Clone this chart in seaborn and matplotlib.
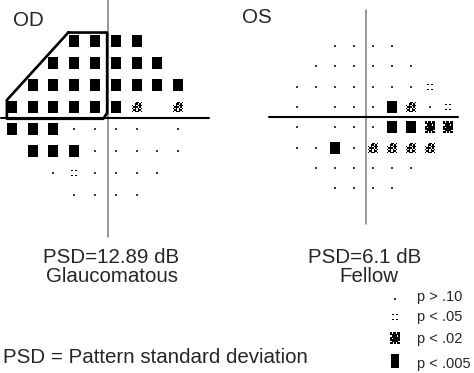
import numpy as np
import pandas as pd
import matplotlib
matplotlib.use('Agg')
import matplotlib.pyplot as plt
from matplotlib.path import Path
import seaborn as sns

sns.set_style('white')
plt.rcParams['font.family'] = ['Liberation Sans', 'DejaVu Sans']

W, H = 474, 373

# symbol codes: '.' p>.10, ':' p<.05, 'x' p<.01, '#' p<.02, 'B' p<.005, ' ' not shown
row_y = [21, 15, 9, 3, -3, -9, -15, -21]

od_cols = [-27, -21, -15, -9, -3, 3, 9, 15, 21]
od_rows = [
    "   BBBB  ",
    "  BBBBBB ",
    " BBBBBBBB",
    "BBBBBBx x",
    "BBB.... .",
    " BBB.....",
    "  .:.... ",
    "   ....  ",
]

os_cols = [-21, -15, -9, -3, 3, 9, 15, 21, 27]
os_rows = [
    "  ....   ",
    " ......  ",
    ".......: ",
    ". ...Bx.:",
    ". ...BB##",
    "..B.xxxx ",
    " ......  ",
    "  ....   ",
]

# outline of the glaucomatous defect drawn on OD
od_outline_x = [-10.7, 0.5, 0.5, -0.6, -28.4, -28.4, -10.7]
od_outline_y = [23.3, 23.3, 1.4, -0.2, -0.2, 4.9, 23.3]

legend_codes = ['.', ':', '#', 'B']
legend_labels = ['p > .10', 'p < .05', 'p < .02', 'p < .005']


def to_frame(rows, cols):
    recs = []
    for yv, r in zip(row_y, rows):
        for xv, c in zip(cols, r):
            if c != ' ':
                recs.append({'x': xv, 'y': yv, 'code': c})
    return pd.DataFrame(recs)


def cells_path(pattern):
    n = len(pattern)
    m = len(pattern[0])
    c = 1.0 / max(n, m)
    verts, codes = [], []
    for i, row in enumerate(pattern):
        for j, ch in enumerate(row):
            if ch == '1':
                x0 = (j - m / 2) * c
                y0 = (n / 2 - i - 1) * c
                verts += [(x0, y0), (x0 + c, y0), (x0 + c, y0 + c), (x0, y0 + c), (x0, y0)]
                codes += [Path.MOVETO, Path.LINETO, Path.LINETO, Path.LINETO, Path.CLOSEPOLY]
    return Path(verts, codes)


def rect_path(w):
    return Path([(-w / 2, -0.5), (w / 2, -0.5), (w / 2, 0.5), (-w / 2, 0.5), (-w / 2, -0.5)],
                [Path.MOVETO, Path.LINETO, Path.LINETO, Path.LINETO, Path.CLOSEPOLY])


four_dots = Path(
    [p for cx, cy in [(-0.3, 0.4), (0.3, 0.4), (-0.3, -0.4), (0.3, -0.4)]
     for p in [(cx - 0.1, cy - 0.1), (cx + 0.1, cy - 0.1), (cx + 0.1, cy + 0.1), (cx - 0.1, cy + 0.1), (cx - 0.1, cy - 0.1)]],
    [Path.MOVETO, Path.LINETO, Path.LINETO, Path.LINETO, Path.CLOSEPOLY] * 4)

sparse = cells_path([
    "0001101",
    "0011010",
    "1010111",
    "0111010",
    "1010101",
    "0110110",
    "1011101",
])
dense = cells_path([
    "1011011",
    "1111111",
    "0111101",
    "1111111",
    "1011111",
    "1111111",
    "0111110",
    "1101011",
])


def marker_for(code, sq_w):
    return {'.': ('s', 2.2), ':': (four_dots, 25), 'x': (sparse, 55),
            '#': (dense, 64), 'B': (rect_path(sq_w), 86)}[code]


def draw_field(ax, df, sq_w, vline_top):
    for code, grp in df.groupby('code'):
        mk, sz = marker_for(code, sq_w)
        col = '#3a3a3a' if code == '.' else 'black'
        sns.scatterplot(data=grp, x='x', y='y', marker=mk, s=sz, color=col,
                        linewidth=0, ax=ax, legend=False)
    ax.plot([0.7, 0.7], [-vline_top, vline_top], color='#7a7a7a', lw=1.1, clip_on=False, zorder=1)
    ax.plot([-30, 30], [0, 0], color='black', lw=1.5, clip_on=False, zorder=1)
    ax.set_xlim(-30, 30)
    ax.set_ylim(-32, 32)
    ax.axis('off')


fig = plt.figure(figsize=(W / 100, H / 100), dpi=100)

ax_od = fig.add_axes([1.3 / W, (H - 235.5) / H, 208.2 / W, 234.9 / H])
draw_field(ax_od, to_frame(od_rows, od_cols), 0.84, 32.5)
ax_od.plot(od_outline_x, od_outline_y, color='black', lw=1.9, clip_on=False, zorder=3)

ax_os = fig.add_axes([268.9 / W, (H - 225.7) / H, 189 / W, 217 / H])
draw_field(ax_os, to_frame(os_rows, os_cols), 0.72, 31.5)

# overlay in pixel coordinates for text and legend
ov = fig.add_axes([0, 0, 1, 1])
ov.set_xlim(0, W)
ov.set_ylim(H, 0)
ov.axis('off')
ov.patch.set_alpha(0)

fs = 14.8
ov.text(13, 26, 'OD', fontsize=fs, va='baseline', ha='left')
ov.text(242, 23, 'OS', fontsize=fs, va='baseline', ha='left')
ov.text(111, 263, 'PSD=12.89 dB', fontsize=fs, va='baseline', ha='center')
ov.text(112.5, 282, 'Glaucomatous', fontsize=fs, va='baseline', ha='center')
ov.text(364.5, 263, 'PSD=6.1 dB', fontsize=fs, va='baseline', ha='center')
ov.text(369, 282, 'Fellow', fontsize=fs, va='baseline', ha='center')
ov.text(3, 363, 'PSD = Pattern standard deviation', fontsize=fs, va='baseline', ha='left')

sym_y = [299, 317.3, 338.3, 360.7]
txt_y = [301, 320.7, 343.3, 368.3]
for code, lab, sy, ty in zip(legend_codes, legend_labels, sym_y, txt_y):
    mk, sz = marker_for(code, 0.64)
    col = '#3a3a3a' if code == '.' else 'black'
    sns.scatterplot(x=[395.5], y=[sy], marker=mk, s=sz * (1.1 if code == 'B' else 1.0),
                    color=col, linewidth=0, ax=ov, legend=False)
    ov.text(417.3, ty, lab, fontsize=10.5, va='baseline', ha='left')
ov.set_xlim(0, W)
ov.set_ylim(H, 0)

fig.savefig('out.png', dpi=100)
